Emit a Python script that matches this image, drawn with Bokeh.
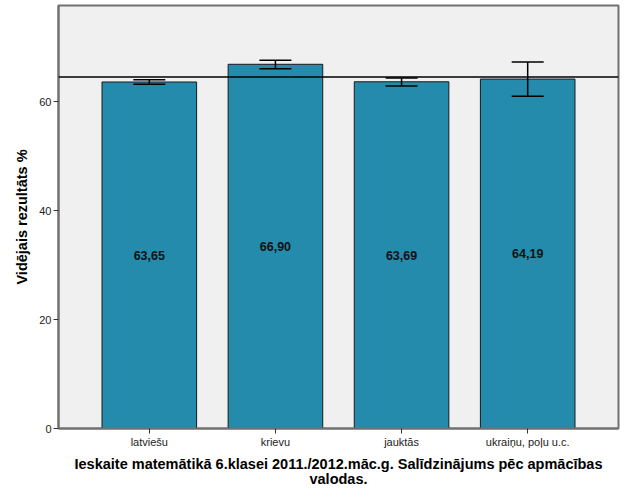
from bokeh.plotting import figure
from bokeh.models import ColumnDataSource, FactorRange, Range1d, Span, Whisker, TeeHead, LabelSet, FixedTicker
from bokeh.core.properties import value
from bokeh.embed import file_html
from bokeh.resources import INLINE

# values
languages = ["latviešu", "krievu", "jauktās", "ukraiņu, poļu u.c."]
mean_score = [63.65, 66.90, 63.69, 64.19]
ci_lower = [63.25, 66.10, 62.90, 61.05]
ci_upper = [64.05, 67.65, 64.40, 67.30]
overall_mean = 64.55
y_ticks = [0, 20, 40, 60]

source = ColumnDataSource(data=dict(
    lang=languages,
    mean=mean_score,
    half=[m / 2 for m in mean_score],
    lower=ci_lower,
    upper=ci_upper,
    label=[f"{m:.2f}".replace(".", ",") for m in mean_score],
))

FONT = "Liberation Sans"

p = figure(
    x_range=FactorRange(*languages, range_padding=0.22, range_padding_units="absolute"),
    y_range=Range1d(0, 77.7),
    frame_width=560, frame_height=423,
    min_border_left=58, min_border_right=2, min_border_top=5, min_border_bottom=55,
    toolbar_location=None,
    output_backend="svg",
)

p.border_fill_color = "white"
p.background_fill_color = "#f0f0f0"
p.outline_line_color = "#707070"
p.outline_line_width = 2
p.grid.grid_line_color = None

#bars
p.vbar(x="lang", top="mean", bottom=0, width=0.75, source=source,
       fill_color="#248bac", line_color="#1a1a1a", line_width=1)

#overall mean line, drawn over the bars
p.add_layout(Span(location=overall_mean, dimension="width", line_color="black",
                  line_width=1.5, level="overlay"))

#confidence intervals
p.add_layout(Whisker(source=source, base="lang", upper="upper", lower="lower",
                     line_color="black", line_width=1.5, level="overlay",
                     upper_head=TeeHead(size=32, line_color="black", line_width=1.5),
                     lower_head=TeeHead(size=32, line_color="black", line_width=1.5)))

#value labels in the middle of each bar
p.add_layout(LabelSet(x="lang", y="half", text="label", source=source,
                      text_align="center", text_baseline="middle",
                      text_font=value(FONT), text_font_size="12.5px", text_font_style="bold",
                      text_color="#111111"))

# y axis
p.yaxis.ticker = FixedTicker(ticks=y_ticks)
p.yaxis.minor_tick_line_color = None
p.yaxis.major_tick_out = 5
p.yaxis.major_tick_in = 0
p.yaxis.major_label_standoff = 2
p.yaxis.axis_label = "Vidējais rezultāts %"
p.yaxis.axis_label_text_font = FONT
p.yaxis.axis_label_text_font_size = "14.5px"
p.yaxis.axis_label_text_font_style = "bold"
p.yaxis.axis_label_standoff = 6

# x axis
p.xaxis.major_tick_out = 5
p.xaxis.major_tick_in = 0
p.xaxis.major_label_standoff = 2
p.xaxis.axis_label = "Ieskaite matemātikā 6.klasei 2011./2012.māc.g. Salīdzinājums pēc apmācības\nvalodas."
p.xaxis.axis_label_text_font = FONT
p.xaxis.axis_label_text_font_size = "14.5px"
p.xaxis.axis_label_text_font_style = "bold"
p.xaxis.axis_label_text_line_height = 0.95
p.xaxis.axis_label_standoff = 5

for ax in (p.xaxis, p.yaxis):
    ax.axis_line_color = "#707070"
    ax.axis_line_width = 2
    ax.major_tick_line_color = "#333333"
    ax.major_label_text_font = FONT
    ax.major_label_text_font_size = "11px"
    ax.major_label_text_color = "#222222"
    ax.axis_label_text_color = "black"

open("out.html", "w").write(file_html(p, INLINE))
